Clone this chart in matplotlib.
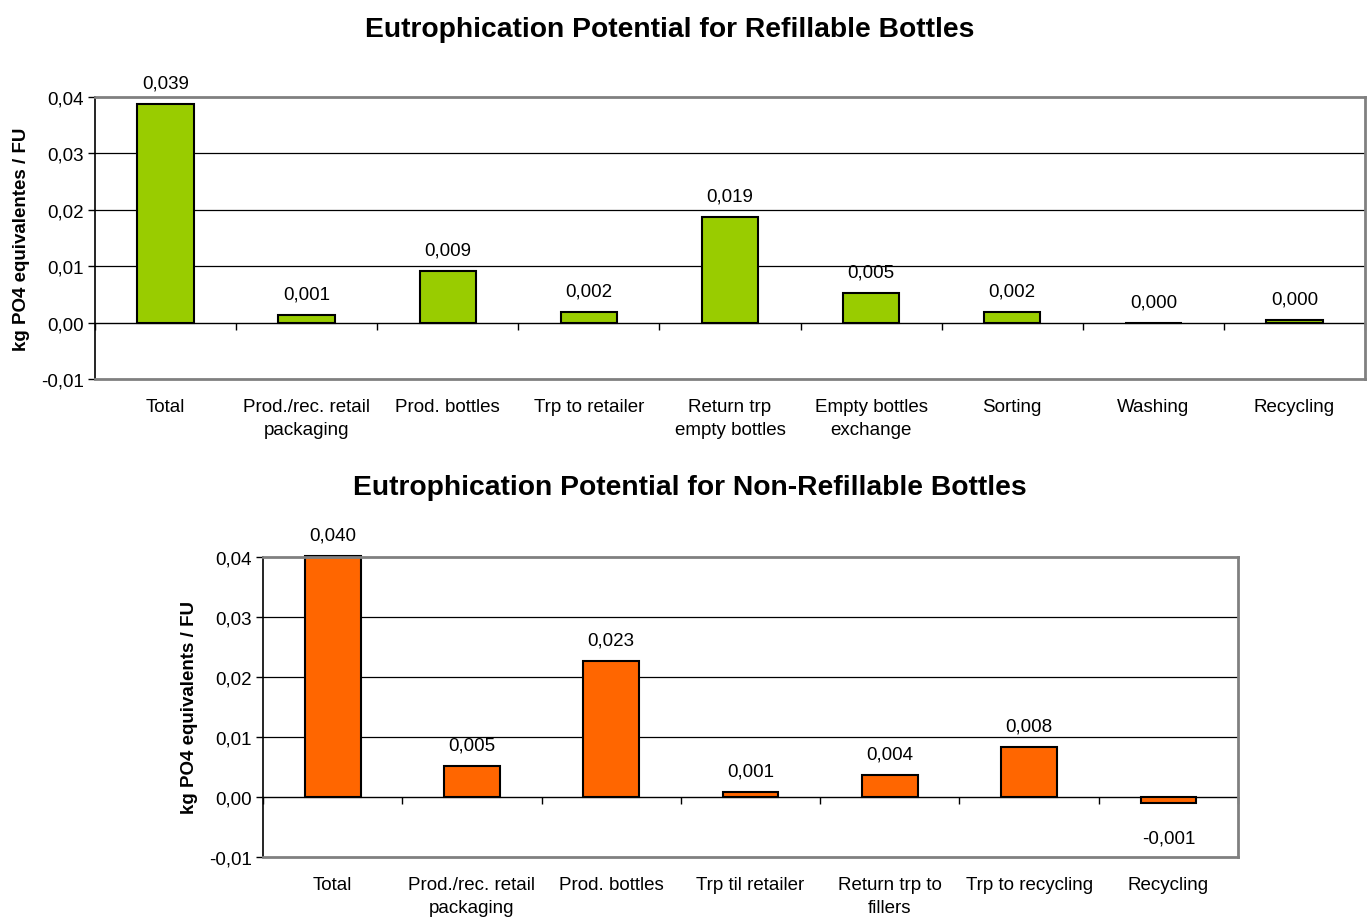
import matplotlib.pyplot as plt
import numpy as np

plt.rcParams['font.family'] = ['Liberation Sans', 'DejaVu Sans']

# refillable bottles
cats_ref = ["Total", "Prod./rec. retail\npackaging", "Prod. bottles", "Trp to retailer",
            "Return trp\nempty bottles", "Empty bottles\nexchange", "Sorting", "Washing", "Recycling"]
vals_ref = [0.0388, 0.0014, 0.0092, 0.0018, 0.0188, 0.0053, 0.0019, 0.0000, 0.0004]

# non-refillable bottles
cats_non = ["Total", "Prod./rec. retail\npackaging", "Prod. bottles", "Trp til retailer",
            "Return trp to\nfillers", "Trp to recycling", "Recycling"]
vals_non = [0.0401, 0.0052, 0.0227, 0.0008, 0.0036, 0.0084, -0.0010]

yticks = [-0.01, 0.0, 0.01, 0.02, 0.03, 0.04]

FS = 13.5


def fmt(v, n):
    return f"{v:.{n}f}".replace('.', ',')


def draw(ax, cats, vals, color, title, ylabel, title_x, pad):
    n = len(cats)
    x = np.arange(n)
    ax.set_xlim(-0.5, n - 0.5)
    ax.set_ylim(-0.01, 0.04)
    for y in yticks[2:-1]:
        ax.axhline(y, color='black', lw=0.9, zorder=0)
    bars = ax.bar(x, vals, width=0.4, color=color, edgecolor='black', lw=1.5, zorder=2)
    for b in bars:
        b.set_clip_on(False)
    for xi, v in zip(x, vals):
        if v < 0:
            ax.annotate(fmt(v, 3), (xi, v), xytext=(0, -19), textcoords='offset points',
                        ha='center', va='top', fontsize=FS, annotation_clip=False)
        else:
            ax.annotate(fmt(v, 3), (xi, v), xytext=(0, 9), textcoords='offset points',
                        ha='center', va='bottom', fontsize=FS, annotation_clip=False)
    ax.set_yticks(yticks)
    ax.set_yticklabels([fmt(t, 2) for t in yticks], fontsize=FS)
    ax.set_xticks(x)
    ax.set_xticklabels(cats, fontsize=FS, linespacing=1.45)
    ax.tick_params(axis='x', length=0, pad=14)
    ax.tick_params(axis='y', length=5, width=1, pad=3)
    for s in ['top', 'right', 'bottom']:
        ax.spines[s].set_color('#808080')
        ax.spines[s].set_linewidth(2)
    ax.spines['left'].set_color('black')
    ax.spines['left'].set_linewidth(1.2)
    # category axis at zero
    sec = ax.secondary_xaxis(0.2)
    sec.set_xticks(np.arange(n + 1) - 0.5)
    sec.set_xticklabels([])
    sec.tick_params(length=5, width=1, direction='out', color='black')
    sec.spines['bottom'].set_color('black')
    sec.spines['bottom'].set_linewidth(1)
    ax.set_ylabel(ylabel, fontsize=FS, fontweight='bold', labelpad=8)
    ax.set_title(title, fontsize=20.3, fontweight='bold', pad=pad)
    ax.title.set_x(title_x)


fig = plt.figure(figsize=(13.67, 9.2), dpi=100)
ax1 = fig.add_axes([95 / 1367, 1 - 380 / 920, 1270 / 1367, 282 / 920])
ax2 = fig.add_axes([263 / 1367, 1 - 858 / 920, 975 / 1367, 300 / 920])

draw(ax1, cats_ref, vals_ref, '#99CC00', "Eutrophication Potential for Refillable Bottles",
     "kg PO4 equivalentes / FU", (670 - 95) / 1270, 44)
draw(ax2, cats_non, vals_non, '#FF6600', "Eutrophication Potential for Non-Refillable Bottles",
     "kg PO4 equivalents / FU", (690 - 263) / 975, 45)

fig.savefig('out.png', dpi=100)
